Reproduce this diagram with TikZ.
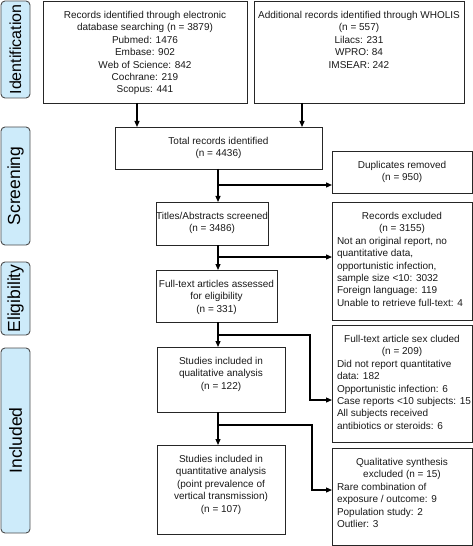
\documentclass[tikz,border=0pt]{standalone}
\usepackage{fontspec}
\setmainfont{Liberation Sans}
\usetikzlibrary{arrows.meta}
\definecolor{sidefill}{HTML}{CDEBFA}
\newcommand\firstline{\rule{0pt}{17.5bp}}
\begin{document}
\begin{tikzpicture}[x=1bp,y=-1bp,
  box/.style={draw=black!85, line width=0.9bp, inner sep=0pt, outer sep=0pt, anchor=north west,
    font=\fontsize{10bp}{12.4bp}\selectfont, text=black!90},
  side/.style={draw=black!70, line width=0.9bp, fill=sidefill, rounded corners=4bp, rotate=90,
    inner sep=0pt, font=\fontsize{17.5bp}{20bp}\selectfont},
  arr/.style={line width=1.2bp, -{Triangle[length=6bp,width=5bp]}}]
\useasboundingbox (0,0) rectangle (473,546);
% phase labels
\node[side, minimum width=97bp, minimum height=29bp] (lid) at (15.5,49.5) {\fontsize{16bp}{18bp}\selectfont Identification};
\node[side, minimum width=118bp, minimum height=29bp] (lsc) at (15.5,186) {Screening};
\node[side, minimum width=73bp, minimum height=29bp] (lel) at (15.5,298.5) {Eligibility};
\node[side, minimum width=185bp, minimum height=29bp] (lin) at (15.5,440.5) {Included};
% boxes
\node[box] (box1) at (43,1) {\parbox[c][102bp][t]{204bp}{\centering\firstline Records identified through electronic\\database searching (n = 3879)\\Pubmed: 1476\\Embase: 902\\Web of Science: 842\\Cochrane: 219\\Scopus: 441}};
\node[box] (box2) at (254,1) {\parbox[c][102bp][t]{210bp}{\centering\firstline Additional records identified through WHOLIS\\(n = 557)\\Lilacs: 231\\WPRO: 84\\IMSEAR: 242}};
\node[box] (box3) at (115,127) {\parbox[c][42bp][t]{207bp}{\centering\firstline Total records identified\\(n = 4436)}};
\node[box] (dup) at (332,151) {\parbox[c][42bp][t]{140bp}{\centering\firstline Duplicates removed\\(n = 950)}};
\node[box] (titles) at (156,202) {\parbox[c][43bp][t]{112bp}{\centering\firstline Titles/Abstracts screened\\(n = 3486)}};
\node[box] (excl) at (332,202) {\parbox[c][118bp][t]{140bp}{{\centering\firstline Records excluded\\(n = 3155)\par}{\raggedright\leftskip=5bp Not an original report, no\\quantitative data,\\opportunistic infection,\\sample size <10: 3032\\Foreign language: 119\\Unable to retrieve full-text: 4\par}}};
\node[box] (full) at (156,270) {\parbox[c][52bp][t]{121bp}{\centering\firstline Full-text articles assessed\\for eligibility\\(n = 331)}};
\node[box] (ftexcl) at (332,325) {\parbox[c][117bp][t]{140bp}{{\centering\firstline Full-text article sex cluded\\(n = 209)\par}{\raggedright\leftskip=5bp Did not report quantitative\\data: 182\\Opportunistic infection: 6\\Case reports <10 subjects: 15\\All subjects received\\antibiotics or steroids: 6\par}}};
\node[box] (qual) at (157,347) {\parbox[c][65bp][t]{128bp}{\centering\firstline Studies included in\\qualitative analysis\\(n = 122)}};
\node[box] (quant) at (157,445) {\parbox[c][89bp][t]{128bp}{\centering\firstline Studies included in\\quantitative analysis\\(point prevalence of\\vertical transmission)\\(n = 107)}};
\node[box] (qsexcl) at (332,448) {\parbox[c][97bp][t]{140bp}{{\centering\firstline Qualitative synthesis\\excluded (n = 15)\par}{\raggedright\leftskip=5bp Rare combination of\\exposure / outcome: 9\\Population study: 2\\Outlier: 3\par}}};
% connectors
\coordinate (xA) at (137,0);
\coordinate (xB) at (302,0);
\coordinate (xM) at (218,0);
\draw[arr] (box1.south -| xA) -- (box3.north -| xA);
\draw[arr] (box2.south -| xB) -- (box3.north -| xB);
\draw[arr] (box3.south -| xM) -- (titles.north -| xM);
\coordinate (j1) at (218,185);
\draw[arr] (j1) -- (dup.west |- j1);
\draw[arr] (titles.south -| xM) -- (full.north -| xM);
\coordinate (j2) at (218,257);
\draw[arr] (j2) -- (excl.west |- j2);
\draw[arr] (full.south -| xM) -- (qual.north -| xM);
\coordinate (j3) at (218,335);
\coordinate (k3) at (310,335);
\coordinate (m3) at (310,400);
\draw[arr] (j3) -- (k3) -- (m3) -- (ftexcl.west |- m3);
\draw[arr] (qual.south -| xM) -- (quant.north -| xM);
\coordinate (j4) at (218,425);
\coordinate (k4) at (312,425);
\coordinate (m4) at (312,490);
\draw[arr] (j4) -- (k4) -- (m4) -- (qsexcl.west |- m4);
\end{tikzpicture}
\end{document}
